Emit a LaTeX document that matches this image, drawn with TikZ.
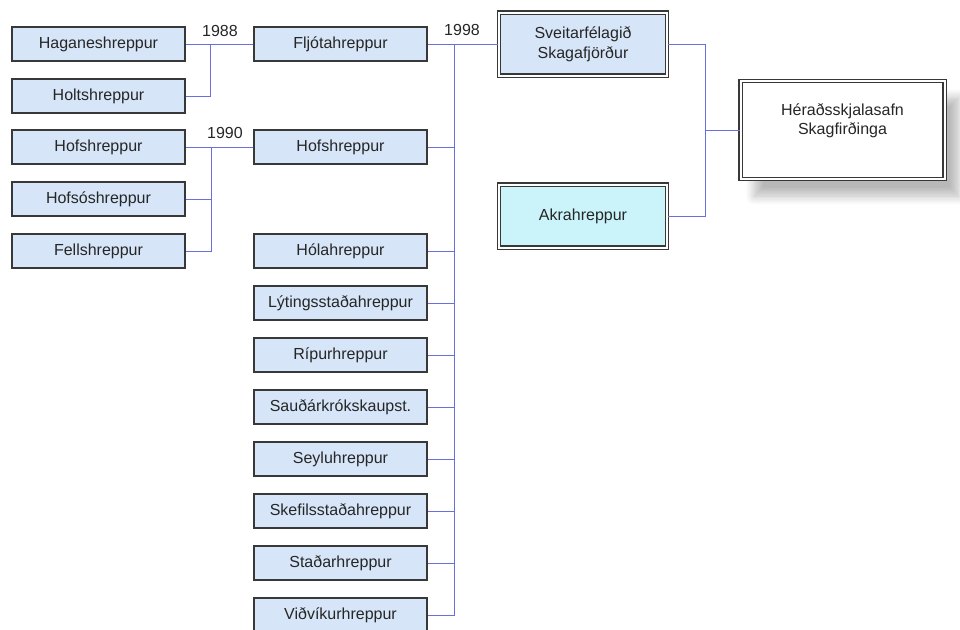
\documentclass[tikz,border=0pt]{standalone}
\usepackage{fontspec}
\setmainfont{Liberation Sans}
\usetikzlibrary{shadows.blur}
\definecolor{linkblue}{RGB}{104,112,222}
\definecolor{boxfill}{RGB}{214,229,248}
\definecolor{akrafill}{RGB}{202,244,250}
\begin{document}
\begin{tikzpicture}[
  x=1pt,
  y=-1pt,
  box/.style={draw=black!78, line width=1.4pt, fill=boxfill,
    minimum width=173pt, minimum height=34pt, inner sep=0pt,
    font=\fontsize{16}{19.5}\selectfont, text=black!85},
  double box/.style={box, line width=1.4pt, double=white,
    double distance=2pt, align=center, minimum width=168pt,
    minimum height=63pt},
  year label/.style={font=\fontsize{16}{19.5}\selectfont, text=black!85},
  blue link/.style={draw=linkblue, line width=0.9pt}
]
  \useasboundingbox (0,0) rectangle (960,629);

  % First round of mergers (1988 and 1990).
  \node[box] (hag) at (98.5,44) {Haganeshreppur};
  \node[box] (holt) at (98.5,96) {Holtshreppur};
  \node[box] (hofsL) at (98.5,147) {Hofshreppur};
  \node[box] (hofsos) at (98.5,199) {Hofsóshreppur};
  \node[box] (fells) at (98.5,251) {Fellshreppur};

  \node[box] (fljot) at (340.5,44) {Fljótahreppur};
  \node[box] (hofsM) at (340.5,147) {Hofshreppur};

  \coordinate (j88) at (210,44);
  \draw[blue link] (hag.east) -- (fljot.west);
  \draw[blue link] (holt.east) -| (j88);
  \node[year label] (y88) at (220,31) {1988};

  \coordinate (j90) at (211,147);
  \draw[blue link] (hofsL.east) -- (hofsM.west);
  \draw[blue link] (fells.east) -| (j90);
  \draw[blue link] (hofsos.east) -- (hofsos.east -| j90);
  \node[year label] (y90) at (225,133) {1990};

  % Municipalities merged in 1998.
  \node[box] (hola) at (340.5,251) {Hólahreppur};
  \node[box] (lyt) at (340.5,303) {Lýtingsstaðahreppur};
  \node[box] (rip) at (340.5,355) {Rípurhreppur};
  \node[box] (saud) at (340.5,407) {Sauðárkrókskaupst.};
  \node[box] (seylu) at (340.5,459) {Seyluhreppur};
  \node[box] (skef) at (340.5,511) {Skefilsstaðahreppur};
  \node[box] (stad) at (340.5,563) {Staðarhreppur};
  \node[box] (vidv) at (340.5,615) {Viðvíkurhreppur};

  \node[double box] (sveit) at (583,44)
    {Sveitarfélagið\\Skagafjörður};
  \node[double box, fill=akrafill] (akra) at (583,216) {Akrahreppur};

  \coordinate (t98) at (454,44);
  \draw[blue link] (fljot.east) -- (sveit.west);
  \draw[blue link] (t98) |- (vidv.east);
  \draw[blue link] (hofsM.east) -- (hofsM.east -| t98);
  \draw[blue link] (hola.east) -- (hola.east -| t98);
  \draw[blue link] (lyt.east) -- (lyt.east -| t98);
  \draw[blue link] (rip.east) -- (rip.east -| t98);
  \draw[blue link] (saud.east) -- (saud.east -| t98);
  \draw[blue link] (seylu.east) -- (seylu.east -| t98);
  \draw[blue link] (skef.east) -- (skef.east -| t98);
  \draw[blue link] (stad.east) -- (stad.east -| t98);
  \node[year label] (y98) at (462,30) {1998};

  % The archive served by both.
  \node[double box, fill=white, minimum width=204pt, minimum height=98pt,
    text depth=22pt,
    blur shadow={shadow xshift=14pt, shadow yshift=-17pt,
      shadow blur radius=9pt, shadow opacity=28,
      shadow blur steps=10}] (herad)
    at (842.5,130) {Héraðsskjalasafn\\Skagfirðinga};

  \coordinate (jr) at (705,130);
  \draw[blue link] (sveit.east) -| (jr) |- (akra.east);
  \draw[blue link] (jr) -- (herad.west);
\end{tikzpicture}
\end{document}
